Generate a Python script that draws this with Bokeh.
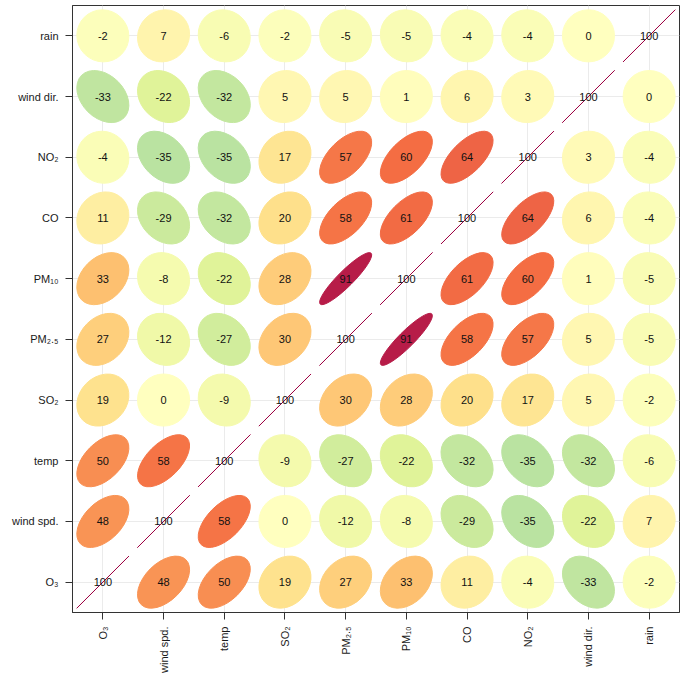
import math
import numpy as np
from bokeh.plotting import figure
from bokeh.models import ColumnDataSource, FixedTicker, LinearColorMapper
from bokeh.transform import transform
from bokeh.core.properties import value
from bokeh.embed import file_html
from bokeh.resources import INLINE

# ---- data -------------------------------------------------------------
variables = ["O3", "wind spd.", "temp", "SO2", "PM2.5", "PM10", "CO", "NO2", "wind dir.", "rain"]
tick_labels = ["O₃", "wind spd.", "temp", "SO₂", "PM₂.₅", "PM₁₀", "CO", "NO₂", "wind dir.", "rain"]

# correlation (x100) of each row variable with the column variables (same order as `variables`)
corr_O3 = [100, 48, 50, 19, 27, 33, 11, -4, -33, -2]
corr_wind_spd = [48, 100, 58, 0, -12, -8, -29, -35, -22, 7]
corr_temp = [50, 58, 100, -9, -27, -22, -32, -35, -32, -6]
corr_SO2 = [19, 0, -9, 100, 30, 28, 20, 17, 5, -2]
corr_PM25 = [27, -12, -27, 30, 100, 91, 58, 57, 5, -5]
corr_PM10 = [33, -8, -22, 28, 91, 100, 61, 60, 1, -5]
corr_CO = [11, -29, -32, 20, 58, 61, 100, 64, 6, -4]
corr_NO2 = [-4, -35, -35, 17, 57, 60, 64, 100, 3, -4]
corr_wind_dir = [-33, -22, -32, 5, 5, 1, 6, 3, 100, 0]
corr_rain = [-2, 7, -6, -2, -5, -5, -4, -4, 0, 100]

rows = [corr_O3, corr_wind_spd, corr_temp, corr_SO2, corr_PM25,
        corr_PM10, corr_CO, corr_NO2, corr_wind_dir, corr_rain]

# ---- build table ------------------------------------------------------
xs, ys, rs, txt = [], [], [], []
for i, row in enumerate(rows):
    for j, v in enumerate(row):
        xs.append(j + 1)
        ys.append(i + 1)
        rs.append(v / 100.0)
        txt.append(str(v))

rs_arr = np.array(rs)
scale = 0.2 * math.sqrt(-2 * math.log(1 - 0.9))  # openair ellipse scale, level 0.9
widths = 2 * scale * np.sqrt(1 + rs_arr)
heights = 2 * scale * np.sqrt(np.clip(1 - rs_arr, 0, None))

src = ColumnDataSource(dict(x=xs, y=ys, r=rs, w=widths, h=heights, label=txt))

# Spectral (reversed) colour ramp, interpolated
spectral = ["#5E4FA2", "#3288BD", "#66C2A5", "#ABDDA4", "#E6F598", "#FFFFBF",
            "#FEE08B", "#FDAE61", "#F46D43", "#D53E4F", "#9E0142"]
def hex2rgb(h):
    return [int(h[k:k + 2], 16) for k in (1, 3, 5)]
base = np.array([hex2rgb(c) for c in spectral], dtype=float)
pos = np.linspace(0, 1, len(spectral))
tt = np.linspace(0, 1, 201)
palette = []
for t in tt:
    rgb = [int(round(np.interp(t, pos, base[:, k]))) for k in range(3)]
    palette.append("#%02x%02x%02x" % tuple(rgb))
mapper = LinearColorMapper(palette=palette, low=-1, high=1)

# ---- figure -----------------------------------------------------------
p = figure(width=682, height=690, x_range=(0.5, 10.5), y_range=(0.5, 10.5),
           output_backend="svg", toolbar_location=None,
           min_border_left=72, min_border_right=3, min_border_top=5, min_border_bottom=78)

p.ellipse(x="x", y="y", width="w", height="h", angle=math.pi / 4, source=src,
          fill_color=transform("r", mapper), line_color=transform("r", mapper),
          line_width=1)

p.text(x="x", y="y", text="label", source=src, text_align="center",
       text_baseline="middle", text_font_size="11px", text_color="#111111",
       text_font=value("Liberation Sans"))

ticks = list(range(1, len(variables) + 1))
overrides = {t: lab for t, lab in zip(ticks, tick_labels)}
for ax in (p.xaxis[0], p.yaxis[0]):
    ax.ticker = FixedTicker(ticks=ticks)
    ax.major_label_overrides = overrides
    ax.major_label_text_font = "Liberation Sans"
    ax.major_label_text_font_size = "11px"
    ax.major_label_text_color = "#1a1a1a"
    ax.major_tick_in = 0
    ax.major_tick_out = 7
    ax.minor_tick_line_color = None
    ax.major_tick_line_color = "#333333"
    ax.axis_line_color = "#333333"
    ax.major_label_standoff = 7
p.xaxis.major_label_orientation = math.pi / 2

p.grid.grid_line_color = "#ebebeb"
p.grid.grid_line_width = 1
p.outline_line_color = "#333333"
p.outline_line_width = 1
p.background_fill_color = "white"
p.border_fill_color = "white"

open("out.html", "w").write(file_html(p, INLINE))
